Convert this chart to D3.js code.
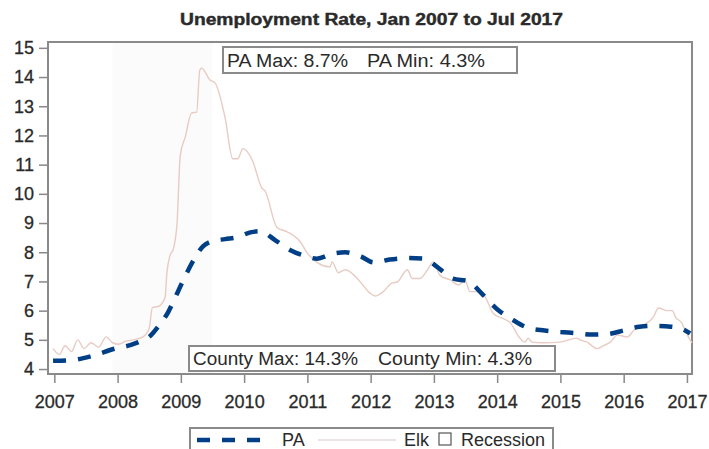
<!DOCTYPE html>
<html><head><meta charset="utf-8">
<script src="https://cdn.jsdelivr.net/npm/d3@7"></script>
<style>
html,body{margin:0;padding:0;background:#fff;}
svg{display:block;font-family:"Liberation Sans",Arial,sans-serif;}
</style></head>
<body><svg id="c" width="709" height="449"></svg>
<script>
const title = "Unemployment Rate, Jan 2007 to Jul 2017";
const yTicks = [4,5,6,7,8,9,10,11,12,13,14,15];
const xTicks = [2007,2008,2009,2010,2011,2012,2013,2014,2015,2016,2017];
const recession = [2007.92, 2009.5];
const paBox = ["PA Max: 8.7%", "PA Min: 4.3%"];
const countyBox = ["County Max: 14.3%", "County Min: 4.3%"];
const legendLabels = ["PA", "Elk", "Recession"];

const paT = [2006.98,2007.25,2007.6,2007.96,2008.2,2008.36,2008.5,2008.64,2008.8,2008.9,2009.03,2009.22,2009.35,2009.5,2009.7,2009.9,2010.1,2010.25,2010.5,2010.75,2010.95,2011.15,2011.4,2011.6,2011.85,2012.05,2012.3,2012.6,2012.85,2013.05,2013.3,2013.55,2013.75,2014.0,2014.25,2014.5,2014.75,2015.0,2015.25,2015.5,2015.75,2016.0,2016.25,2016.5,2016.75,2016.92,2017.05];
const paV = [4.28,4.3,4.45,4.7,4.82,4.95,5.1,5.45,5.95,6.4,7.0,7.8,8.2,8.38,8.45,8.52,8.68,8.72,8.4,8.05,7.88,7.78,7.95,8.0,7.85,7.65,7.75,7.8,7.78,7.5,7.1,7.0,6.6,6.05,5.68,5.4,5.32,5.27,5.23,5.18,5.2,5.32,5.45,5.48,5.45,5.38,5.22];

const elkT = [2006.98,2007.08,2007.17,2007.27,2007.37,2007.47,2007.58,2007.7,2007.82,2007.92,2008.02,2008.12,2008.25,2008.4,2008.5,2008.55,2008.65,2008.75,2008.78,2008.83,2008.88,2008.94,2008.99,2009.07,2009.17,2009.25,2009.30,2009.33,2009.46,2009.54,2009.70,2009.82,2009.90,2009.98,2010.13,2010.28,2010.33,2010.52,2010.68,2010.89,2011.0,2011.17,2011.36,2011.39,2011.49,2011.6,2011.83,2011.99,2012.07,2012.2,2012.34,2012.42,2012.58,2012.66,2012.78,2012.9,2012.99,2013.1,2013.26,2013.39,2013.49,2013.57,2013.73,2013.81,2013.94,2014.07,2014.2,2014.36,2014.44,2014.49,2014.55,2014.72,2014.99,2015.26,2015.31,2015.42,2015.58,2015.68,2015.79,2015.9,2016.06,2016.16,2016.31,2016.47,2016.55,2016.69,2016.77,2016.82,2016.92,2016.97,2017.05,2017.08];
const elkV = [4.7,4.5,4.8,4.6,5.0,4.7,4.9,4.75,5.1,4.9,4.85,4.95,5.0,5.1,5.4,6.1,6.15,6.45,7.3,7.9,8.1,9.0,11.3,11.95,12.77,12.8,14.24,14.3,13.9,13.8,12.6,11.2,11.2,11.55,11.15,10.2,10.1,8.85,8.7,8.35,7.97,7.63,7.5,7.67,7.3,7.4,7.0,6.6,6.5,6.65,6.95,6.98,7.4,7.1,7.1,7.4,7.67,7.2,7.05,6.88,7.05,6.65,6.65,6.47,5.9,5.75,5.6,5.06,4.92,5.06,4.92,4.9,4.92,5.06,5.0,4.92,4.7,4.8,4.92,5.16,5.1,5.33,5.5,5.78,6.09,6.0,6.0,5.78,5.57,5.33,5.0,4.9];

const svg = d3.select("#c");
const L = 48, R = 692, T = 42, B = 374;
const x = d3.scaleLinear().domain([2006.9, 2017.08]).range([L, R]);
const y = d3.scaleLinear().domain([3.83, 15.2]).range([B, T]);
const TXT = "#2a2a2a";

// recession band
svg.append("rect").attr("x", x(recession[0])).attr("y", T).attr("width", x(recession[1]) - x(recession[0])).attr("height", B - T).attr("fill", "#fbfbfb");

// title
svg.append("text").attr("x", 180).attr("y", 25).attr("font-weight", "bold").attr("font-size", 16)
  .attr("textLength", 383).attr("lengthAdjust", "spacingAndGlyphs").attr("fill", TXT).attr("stroke", TXT).attr("stroke-width", 0.4).text(title);

// axes
const ya = svg.append("g").attr("transform", `translate(${L},0)`).call(d3.axisLeft(y).tickValues(yTicks).tickSize(9).tickPadding(5));
const xa = svg.append("g").attr("transform", `translate(0,${B})`).call(d3.axisBottom(x).tickValues(xTicks).tickFormat(d3.format("d")).tickSize(9).tickPadding(12));
[ya, xa].forEach(g => {
  g.select(".domain").remove();
  g.selectAll(".tick line").attr("stroke", "#888").attr("stroke-width", 1.5);
  g.selectAll(".tick text").attr("font-size", 18).attr("fill", TXT).attr("stroke", TXT).attr("stroke-width", 0.3)
    .attr("font-family", "Liberation Sans, Arial, sans-serif");
});

// frame
svg.append("rect").attr("x", L).attr("y", T).attr("width", R - L).attr("height", B - T).attr("fill", "none").attr("stroke", "#8a8a8a").attr("stroke-width", 2);

// lines
const lineGen = (tt, vv) => d3.line().x((d, i) => x(tt[i])).y((d, i) => y(vv[i])).curve(d3.curveMonotoneX)(vv);
svg.append("path").attr("d", lineGen(elkT, elkV)).attr("fill", "none").attr("stroke", "#e8cbc3").attr("stroke-width", 1.4);
svg.append("path").attr("d", lineGen(paT, paV)).attr("fill", "none").attr("stroke", "#003e86").attr("stroke-width", 4.5).attr("stroke-dasharray", "13,12");

// annotation boxes
function box(x0, y0, x1, y1, labels, xs, ws) {
  svg.append("rect").attr("x", x0).attr("y", y0).attr("width", x1 - x0).attr("height", y1 - y0).attr("fill", "#fff").attr("stroke", "#8a8a8a").attr("stroke-width", 2);
  labels.forEach((t, i) => svg.append("text").attr("x", xs[i]).attr("y", (y0 + y1) / 2 + 6.5).attr("font-size", 18)
    .attr("textLength", ws[i]).attr("lengthAdjust", "spacingAndGlyphs").attr("fill", TXT).text(t));
}
box(223, 47, 517, 73, paBox, [227, 367], [121, 118]);
box(189, 346, 555, 371, countyBox, [193, 378], [165, 154]);

// legend
const lg = svg.append("g");
lg.append("rect").attr("x", 190).attr("y", 428).attr("width", 363).attr("height", 30).attr("fill", "#fff").attr("stroke", "#8a8a8a").attr("stroke-width", 2);
lg.append("line").attr("x1", 197).attr("x2", 262).attr("y1", 440).attr("y2", 440).attr("stroke", "#003e86").attr("stroke-width", 4.5).attr("stroke-dasharray", "13,12");
lg.append("text").attr("x", 282).attr("y", 446).attr("font-size", 18).attr("fill", TXT).text(legendLabels[0]);
lg.append("line").attr("x1", 318).attr("x2", 396).attr("y1", 440).attr("y2", 440).attr("stroke", "#e6dcdc").attr("stroke-width", 1.4);
lg.append("text").attr("x", 404).attr("y", 446).attr("font-size", 18).attr("fill", TXT).text(legendLabels[1]);
lg.append("rect").attr("x", 439).attr("y", 433).attr("width", 12).attr("height", 12).attr("fill", "#fff").attr("stroke", "#555").attr("stroke-width", 1.2);
lg.append("text").attr("x", 461).attr("y", 446).attr("font-size", 18).attr("fill", TXT).text(legendLabels[2]);
</script></body></html>
